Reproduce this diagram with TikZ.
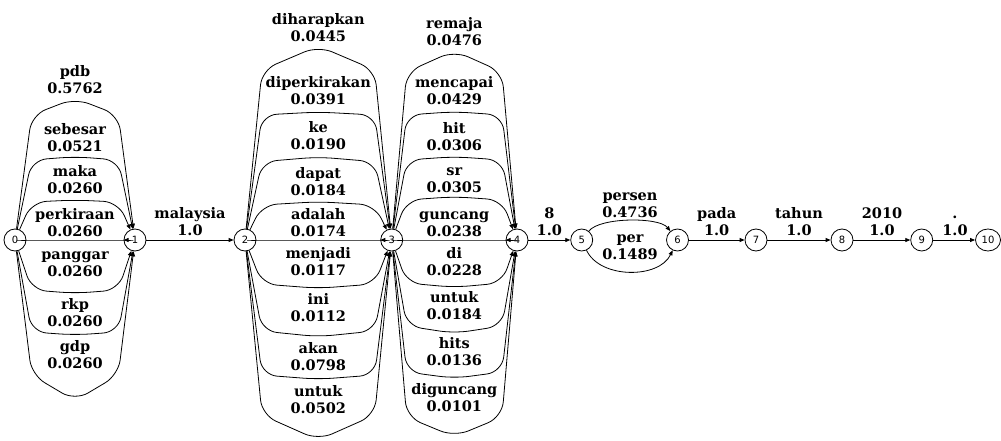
\documentclass[tikz,border=0pt]{standalone}
\usepackage{fontspec}
\setmainfont{DejaVu Serif}
\newfontfamily\statefont{DejaVu Sans}
\usetikzlibrary{arrows.meta,shapes.geometric}

\tikzset{
  state/.style={draw, circle, minimum size=22pt, inner sep=0pt, line width=0.8pt, font=\statefont\fontsize{10}{11}\selectfont},
  hop/.style={draw, line width=0.8pt, -{Triangle[length=5pt,width=4pt]}, rounded corners=15pt},
  word/.style={align=center, inner sep=0pt, anchor=base, font=\bfseries\fontsize{14.5}{17}\selectfont}
}

\begin{document}
\begin{tikzpicture}[x=1pt, y=-1pt]

    \useasboundingbox (0,0) rectangle (1001,441);

    % states
    \node[state] (n0) at (15,240) {0};
    \node[state] (n1) at (135,240) {1};
    \node[state] (n2) at (245,240) {2};
    \node[state] (n3) at (391.7,240) {3};
    \node[state] (n4) at (517,240) {4};
    \node[state] (n5) at (581.7,240) {5};
    \node[state] (n6) at (677.5,240) {6};
    \node[state] (n7) at (756,240) {7};
    \node[state] (n8) at (842,240) {8};
    \node[state] (n9) at (921.7,240) {9};
    \node[state, ellipse, minimum width=25pt] (n10) at (988,240) {10};

    % 0 -> 1
    \foreach \w/\p/\t/\s/\b in {pdb/0.5762/98.3/115/93.3, sebesar/0.0521/156.7/160/151.7,
        maka/0.0260/200/202/193.3, perkiraan/0.0260/240/240/236.7, panggar/0.0260/293.3/290/276,
        rkp/0.0260/335/332/326.7, gdp/0.0260/400.7/375/368.3} {
        \path[hop] (n0) -- (31.7,\s) -- (75,\t) -- (118.3,\s) -- (n1);
        \node[word] (w01-\w) at (75,\b) {\w\\\p};
    }

    % 2 -> 3
    \foreach \w/\p/\t/\s/\b in {diharapkan/0.0445/46/70/41.7, diperkirakan/0.0391/112/115/105,
        ke/0.0190/157/161.7/149.3, dapat/0.0184/201.7/205/195, adalah/0.0174/240/240/236.3,
        menjadi/0.0117/288.3/284/275.7, ini/0.0112/336.7/331/321.7, akan/0.0798/379.3/375/370,
        untuk/0.0502/440/415/413.3} {
        \path[hop] (n2) -- (262,\s) -- (318.3,\t) -- (374.7,\s) -- (n3);
        \node[word] (w23-\w) at (318.3,\b) {\w\\\p};
    }

    % 3 -> 4
    \foreach \w/\p/\t/\s/\b in {remaja/0.0476/50.7/72/45.5, mencapai/0.0429/111.7/115/105,
        hit/0.0306/156.7/160/150, sr/0.0305/196.7/200/192.5, guncang/0.0238/240/240/236.5,
        di/0.0228/287.3/283/275.7, untuk/0.0184/333.3/326/319.5, hits/0.0136/378.3/372/365,
        diguncang/0.0101/436.7/417/411.7} {
        \path[hop] (n3) -- (406.7,\s) -- (454.3,\t) -- (502,\s) -- (n4);
        \node[word] (w34-\w) at (454.3,\b) {\w\\\p};
    }

    % 5 -> 6
    \path[hop] (n5) .. controls (600,217) and (659,217) .. (n6);
    \path[hop] (n5) .. controls (600,279) and (659,279) .. (n6);
    \node[word] (w56-persen) at (630,217.3) {persen\\0.4736};
    \node[word] (w56-per) at (630,259.3) {per\\0.1489};

    % single words
    \path[hop] (n1) -- (n2);
    \path[hop] (n4) -- (n5);
    \path[hop] (n6) -- (n7);
    \path[hop] (n7) -- (n8);
    \path[hop] (n8) -- (n9);
    \path[hop] (n9) -- (n10);
    \node[word] (w12) at (190,235.7) {malaysia\\1.0};
    \node[word] (w45) at (549.3,235) {8\\1.0};
    \node[word] (w67) at (716.7,235) {pada\\1.0};
    \node[word] (w78) at (799,235) {tahun\\1.0};
    \node[word] (w89) at (882,235) {2010\\1.0};
    \node[word] (w910) at (955,235) {.\\1.0};

\end{tikzpicture}
\end{document}
